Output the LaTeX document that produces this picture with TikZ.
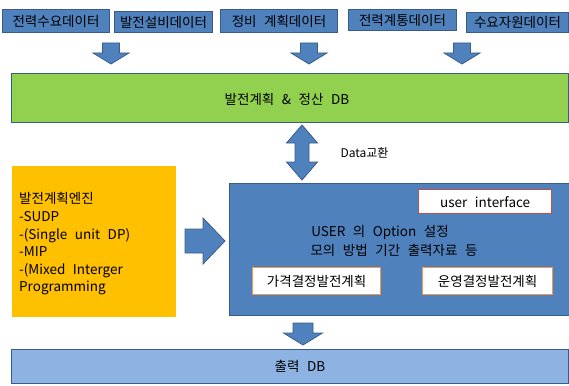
\documentclass[tikz,border=0pt]{standalone}
\usepackage{fontspec}
\setmainfont{Noto Sans CJK KR}[WordSpace=2.5]
\usetikzlibrary{arrows}

\definecolor{boxblue}{HTML}{4F81BD}
\definecolor{boxline}{HTML}{385D8A}
\definecolor{dbgreen}{HTML}{92D050}
\definecolor{enginegold}{HTML}{FFC000}
\definecolor{outblue}{HTML}{8DB3E2}
\definecolor{uired}{HTML}{C0504D}
\definecolor{planorange}{HTML}{F79646}

\begin{document}
\begin{tikzpicture}[
  x=1pt, y=-1pt,
  font=\fontsize{13.5}{17.6}\selectfont,
  databox/.style={draw=boxline, fill=boxblue, line width=1pt, inner sep=0pt, anchor=north west},
  dbbar/.style={draw=boxline, line width=1pt, inner sep=0pt, anchor=north west},
  subbox/.style={fill=white, line width=1.3pt, inner sep=0pt, anchor=north west},
  blockarrow/.style={fill=boxblue, draw=boxline, line width=0.8pt, line join=miter},
]
\clip (0,0) rectangle (569,385);

% input data
\node[databox, minimum width=107pt, minimum height=23pt] (demand) at (2,9) {전력수요데이터};
\node[databox, minimum width=98pt, minimum height=21pt] (plant) at (114,11) {발전설비데이터};
\node[databox, minimum width=117pt, minimum height=23pt] (maint) at (220,9) {정비 계획데이터};
\node[databox, minimum width=108pt, minimum height=21pt] (grid) at (348,9) {전력계통데이터};
\node[databox, minimum width=102pt, minimum height=20pt] (resource) at (466,12) {수요자원데이터};

\foreach \x in {111,309,462} {
  \draw[blockarrow] (\x-8.5,43) -- (\x+8.5,43) -- (\x+8.5,53) -- (\x+18,53) -- (\x,64)
    -- (\x-18,53) -- (\x-8.5,53) -- cycle;
}

% DB
\node[dbbar, fill=dbgreen, minimum width=557pt, minimum height=49pt] (settledb) at (11,73) {};
\node (settletext) at (287,99) {발전계획 \& 정산 DB};

\draw[blockarrow] (302,125) -- (317.5,143) -- (309,143) -- (309,162) -- (317.5,162) -- (302,180)
  -- (286.5,162) -- (295,162) -- (295,143) -- (286.5,143) -- cycle;
\node[anchor=west, font=\fontsize{12}{14}\selectfont] (exchange) at (337,153) {Data교환};

% engine
\node[anchor=north west, fill=enginegold, minimum width=164pt, minimum height=151pt] (engine) at (12,166) {};
\node[anchor=west, align=left, inner sep=0pt] (enginetext) at (19,244)
  {발전계획엔진\\-SUDP\\-(Single unit DP)\\-MIP\\-(Mixed Interger\\Programming};

\draw[blockarrow] (185,229) -- (203,229) -- (203,218) -- (225,241) -- (203,264) -- (203,253)
  -- (185,253) -- cycle;

% user options
\node[dbbar, fill=boxblue, minimum width=350pt, minimum height=132pt] (userbox) at (229,183) {};
\node[subbox, draw=uired, minimum width=133pt, minimum height=24pt] (ui) at (418,189) {user interface};
\node (opt1) at (380,232) {USER 의 Option 설정};
\node (opt2) at (394,250) {모의 방법 기간 출력자료 등};
\node[subbox, draw=planorange, minimum width=128pt, minimum height=27pt] (price) at (252,267) {가격결정발전계획};
\node[subbox, draw=planorange, minimum width=130pt, minimum height=27pt] (ops) at (422,267) {운영결정발전계획};

\draw[blockarrow] (293,323) -- (313,323) -- (313,333) -- (322.5,333) -- (303,345) -- (283.5,333)
  -- (293,333) -- cycle;

% output
\node[dbbar, fill=outblue, minimum width=557pt, minimum height=34pt] (outdb) at (11,349) {};
\node (outtext) at (300,366) {출력 DB};

\end{tikzpicture}
\end{document}
